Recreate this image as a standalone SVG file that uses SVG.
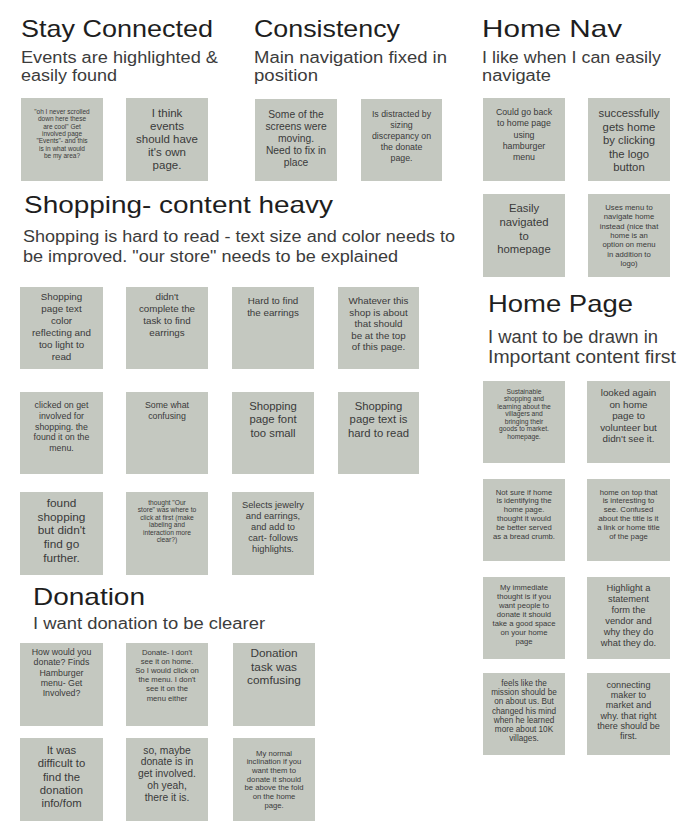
<svg xmlns="http://www.w3.org/2000/svg" width="680" height="840" viewBox="0 0 680 840">
<style>
.bg{fill:#ffffff}
.note{fill:#c4c8c0}
.h{font-family:"Liberation Sans",Arial,sans-serif;font-size:24px;fill:#1e1e1e}
.sub{font-family:"Liberation Sans",Arial,sans-serif;font-size:16px;fill:#3c3c3c}
.sub2{font-family:"Liberation Sans",Arial,sans-serif;font-size:17.5px;fill:#3c3c3c}
.t{font-family:"Liberation Sans",Arial,sans-serif;fill:#3a3a3a;text-anchor:middle}
</style>
<rect class="bg" x="0" y="0" width="680" height="840"/>

<g id="stay-connected-header">
<text class="h" x="21" y="37" textLength="192" lengthAdjust="spacingAndGlyphs">Stay Connected</text>
<text class="sub" x="21" y="63" textLength="197" lengthAdjust="spacingAndGlyphs">Events are highlighted &amp;</text>
<text class="sub" x="21" y="81" textLength="96" lengthAdjust="spacingAndGlyphs">easily found</text>
</g>
<g id="consistency-header">
<text class="h" x="254" y="37" textLength="146" lengthAdjust="spacingAndGlyphs">Consistency</text>
<text class="sub" x="254" y="63" textLength="193" lengthAdjust="spacingAndGlyphs">Main navigation fixed in</text>
<text class="sub" x="254" y="81" textLength="64" lengthAdjust="spacingAndGlyphs">position</text>
</g>
<g id="home-nav-header">
<text class="h" x="482" y="37" textLength="140" lengthAdjust="spacingAndGlyphs">Home Nav</text>
<text class="sub" x="482" y="63" textLength="179" lengthAdjust="spacingAndGlyphs">I like when I can easily</text>
<text class="sub" x="482" y="81" textLength="69" lengthAdjust="spacingAndGlyphs">navigate</text>
</g>
<g id="shopping-header">
<text class="h" x="24" y="213" textLength="309" lengthAdjust="spacingAndGlyphs">Shopping- content heavy</text>
<text class="sub" x="23" y="242" textLength="432" lengthAdjust="spacingAndGlyphs">Shopping is hard to read - text size and color needs to</text>
<text class="sub" x="23" y="262" textLength="375" lengthAdjust="spacingAndGlyphs">be improved. "our store" needs to be explained</text>
</g>
<g id="home-page-header">
<text class="h" x="488" y="312" textLength="145" lengthAdjust="spacingAndGlyphs">Home Page</text>
<text class="sub2" x="488" y="343" textLength="170" lengthAdjust="spacingAndGlyphs">I want to be drawn in</text>
<text class="sub2" x="488" y="363" textLength="188" lengthAdjust="spacingAndGlyphs">Important content first</text>
</g>
<g id="donation-header">
<text class="h" x="33" y="605" textLength="112" lengthAdjust="spacingAndGlyphs">Donation</text>
<text class="sub" x="33" y="629" textLength="232" lengthAdjust="spacingAndGlyphs">I want donation to be clearer</text>
</g>

<!-- Stay Connected notes -->
<g id="stay-1">
<rect class="note" x="21" y="98" width="82" height="83"/>
<text class="t" font-size="6.5" x="62" y="114"><tspan x="62">"oh I never scrolled</tspan><tspan x="62" dy="7.3">down here these</tspan><tspan x="62" dy="7.3">are cool" Get</tspan><tspan x="62" dy="7.3">involved page</tspan><tspan x="62" dy="7.3">"Events"- and this</tspan><tspan x="62" dy="7.3">is in what would</tspan><tspan x="62" dy="7.3">be my area?</tspan></text>
</g>
<g id="stay-2">
<rect class="note" x="126" y="98" width="82" height="83"/>
<text class="t" font-size="11.5" x="167" y="117"><tspan x="167">I think</tspan><tspan x="167" dy="13">events</tspan><tspan x="167" dy="13">should have</tspan><tspan x="167" dy="13">it's own</tspan><tspan x="167" dy="13">page.</tspan></text>
</g>

<!-- Consistency notes -->
<g id="cons-1">
<rect class="note" x="255" y="99" width="82" height="82"/>
<text class="t" font-size="10.3" x="296" y="118"><tspan x="296">Some of the</tspan><tspan x="296" dy="12">screens were</tspan><tspan x="296" dy="12">moving.</tspan><tspan x="296" dy="12">Need to fix in</tspan><tspan x="296" dy="12">place</tspan></text>
</g>
<g id="cons-2">
<rect class="note" x="361" y="99" width="81" height="82"/>
<text class="t" font-size="8.8" x="401.5" y="117"><tspan x="401.5">Is distracted by</tspan><tspan x="401.5" dy="11">sizing</tspan><tspan x="401.5" dy="11">discrepancy on</tspan><tspan x="401.5" dy="11">the donate</tspan><tspan x="401.5" dy="11">page.</tspan></text>
</g>

<!-- Home Nav notes -->
<g id="nav-1">
<rect class="note" x="483" y="98" width="82" height="83"/>
<text class="t" font-size="8.8" x="524" y="115"><tspan x="524">Could go back</tspan><tspan x="524" dy="11.3">to home page</tspan><tspan x="524" dy="11.3">using</tspan><tspan x="524" dy="11.3">hamburger</tspan><tspan x="524" dy="11.3">menu</tspan></text>
</g>
<g id="nav-2">
<rect class="note" x="588" y="98" width="82" height="83"/>
<text class="t" font-size="11.3" x="629" y="117"><tspan x="629">successfully</tspan><tspan x="629" dy="13.5">gets home</tspan><tspan x="629" dy="13.5">by clicking</tspan><tspan x="629" dy="13.5">the logo</tspan><tspan x="629" dy="13.5">button</tspan></text>
</g>
<g id="nav-3">
<rect class="note" x="483" y="194" width="82" height="83"/>
<text class="t" font-size="11.3" x="524" y="212"><tspan x="524">Easily</tspan><tspan x="524" dy="13.8">navigated</tspan><tspan x="524" dy="13.8">to</tspan><tspan x="524" dy="13.8">homepage</tspan></text>
</g>
<g id="nav-4">
<rect class="note" x="588" y="194" width="82" height="83"/>
<text class="t" font-size="7.7" x="629" y="210"><tspan x="629">Uses menu to</tspan><tspan x="629" dy="9.3">navigate home</tspan><tspan x="629" dy="9.3">instead (nice that</tspan><tspan x="629" dy="9.3">home is an</tspan><tspan x="629" dy="9.3">option on menu</tspan><tspan x="629" dy="9.3">in addition to</tspan><tspan x="629" dy="9.3">logo)</tspan></text>
</g>

<!-- Shopping notes -->
<g id="shop-1">
<rect class="note" x="20" y="287" width="83" height="82"/>
<text class="t" font-size="9.8" x="61.5" y="300"><tspan x="61.5">Shopping</tspan><tspan x="61.5" dy="12">page text</tspan><tspan x="61.5" dy="12">color</tspan><tspan x="61.5" dy="12">reflecting and</tspan><tspan x="61.5" dy="12">too light to</tspan><tspan x="61.5" dy="12">read</tspan></text>
</g>
<g id="shop-2">
<rect class="note" x="126" y="287" width="82" height="82"/>
<text class="t" font-size="9.8" x="167" y="300"><tspan x="167">didn't</tspan><tspan x="167" dy="12">complete the</tspan><tspan x="167" dy="12">task to find</tspan><tspan x="167" dy="12">earrings</tspan></text>
</g>
<g id="shop-3">
<rect class="note" x="232" y="287" width="82" height="82"/>
<text class="t" font-size="9.8" x="273" y="304"><tspan x="273">Hard to find</tspan><tspan x="273" dy="12">the earrings</tspan></text>
</g>
<g id="shop-4">
<rect class="note" x="338" y="287" width="81" height="82"/>
<text class="t" font-size="9.8" x="378.5" y="304"><tspan x="378.5">Whatever this</tspan><tspan x="378.5" dy="11.5">shop is about</tspan><tspan x="378.5" dy="11.5">that should</tspan><tspan x="378.5" dy="11.5">be at the top</tspan><tspan x="378.5" dy="11.5">of this page.</tspan></text>
</g>
<g id="shop-5">
<rect class="note" x="20" y="392" width="83" height="82"/>
<text class="t" font-size="8.8" x="61.5" y="408"><tspan x="61.5">clicked on get</tspan><tspan x="61.5" dy="10.8">involved for</tspan><tspan x="61.5" dy="10.8">shopping.  the</tspan><tspan x="61.5" dy="10.8">found it on the</tspan><tspan x="61.5" dy="10.8">menu.</tspan></text>
</g>
<g id="shop-6">
<rect class="note" x="126" y="392" width="82" height="82"/>
<text class="t" font-size="8.8" x="167" y="408"><tspan x="167">Some what</tspan><tspan x="167" dy="11">confusing</tspan></text>
</g>
<g id="shop-7">
<rect class="note" x="232" y="392" width="82" height="82"/>
<text class="t" font-size="11.3" x="273" y="410"><tspan x="273">Shopping</tspan><tspan x="273" dy="13.3">page font</tspan><tspan x="273" dy="13.3">too small</tspan></text>
</g>
<g id="shop-8">
<rect class="note" x="338" y="392" width="81" height="82"/>
<text class="t" font-size="11.3" x="378.5" y="410"><tspan x="378.5">Shopping</tspan><tspan x="378.5" dy="13.3">page text is</tspan><tspan x="378.5" dy="13.3">hard to read</tspan></text>
</g>
<g id="shop-9">
<rect class="note" x="20" y="492" width="83" height="83"/>
<text class="t" font-size="11.8" x="61.5" y="507"><tspan x="61.5">found</tspan><tspan x="61.5" dy="13.7">shopping</tspan><tspan x="61.5" dy="13.7">but didn't</tspan><tspan x="61.5" dy="13.7">find go</tspan><tspan x="61.5" dy="13.7">further.</tspan></text>
</g>
<g id="shop-10">
<rect class="note" x="126" y="492" width="82" height="83"/>
<text class="t" font-size="6.7" x="167" y="504.5"><tspan x="167">thought "Our</tspan><tspan x="167" dy="7.5">store" was where to</tspan><tspan x="167" dy="7.5">click at first (make</tspan><tspan x="167" dy="7.5">labeling and</tspan><tspan x="167" dy="7.5">interaction more</tspan><tspan x="167" dy="7.5">clear?)</tspan></text>
</g>
<g id="shop-11">
<rect class="note" x="232" y="492" width="82" height="83"/>
<text class="t" font-size="9.3" x="273" y="508"><tspan x="273">Selects jewelry</tspan><tspan x="273" dy="11">and earrings,</tspan><tspan x="273" dy="11">and add to</tspan><tspan x="273" dy="11">cart- follows</tspan><tspan x="273" dy="11">highlights.</tspan></text>
</g>

<!-- Home Page notes -->
<g id="home-1">
<rect class="note" x="483" y="381" width="82" height="82"/>
<text class="t" font-size="6.7" x="524" y="393.5"><tspan x="524">Sustainable</tspan><tspan x="524" dy="7.5">shopping and</tspan><tspan x="524" dy="7.5">learning about the</tspan><tspan x="524" dy="7.5">villagers and</tspan><tspan x="524" dy="7.5">bringing their</tspan><tspan x="524" dy="7.5">goods to market.</tspan><tspan x="524" dy="7.5">homepage.</tspan></text>
</g>
<g id="home-2">
<rect class="note" x="587" y="381" width="83" height="82"/>
<text class="t" font-size="9.8" x="628.5" y="396"><tspan x="628.5">looked again</tspan><tspan x="628.5" dy="11.5">on home</tspan><tspan x="628.5" dy="11.5">page to</tspan><tspan x="628.5" dy="11.5">volunteer but</tspan><tspan x="628.5" dy="11.5">didn't see it.</tspan></text>
</g>
<g id="home-3">
<rect class="note" x="483" y="479" width="82" height="82"/>
<text class="t" font-size="7.7" x="524" y="494.5"><tspan x="524">Not sure if home</tspan><tspan x="524" dy="8.9">is identifying the</tspan><tspan x="524" dy="8.9">home page.</tspan><tspan x="524" dy="8.9">thought it would</tspan><tspan x="524" dy="8.9">be better served</tspan><tspan x="524" dy="8.9">as a bread crumb.</tspan></text>
</g>
<g id="home-4">
<rect class="note" x="587" y="479" width="83" height="82"/>
<text class="t" font-size="7.7" x="628.5" y="494.5"><tspan x="628.5">home on top that</tspan><tspan x="628.5" dy="8.9">is interesting to</tspan><tspan x="628.5" dy="8.9">see.  Confused</tspan><tspan x="628.5" dy="8.9">about the title is it</tspan><tspan x="628.5" dy="8.9">a link or home title</tspan><tspan x="628.5" dy="8.9">of the page</tspan></text>
</g>
<g id="home-5">
<rect class="note" x="483" y="577" width="82" height="82"/>
<text class="t" font-size="7.7" x="524" y="590"><tspan x="524">My immediate</tspan><tspan x="524" dy="9">thought is if you</tspan><tspan x="524" dy="9">want people to</tspan><tspan x="524" dy="9">donate it should</tspan><tspan x="524" dy="9">take a good space</tspan><tspan x="524" dy="9">on your home</tspan><tspan x="524" dy="9">page</tspan></text>
</g>
<g id="home-6">
<rect class="note" x="587" y="577" width="83" height="82"/>
<text class="t" font-size="9.3" x="628.5" y="591"><tspan x="628.5">Highlight a</tspan><tspan x="628.5" dy="10.9">statement</tspan><tspan x="628.5" dy="10.9">form the</tspan><tspan x="628.5" dy="10.9">vendor and</tspan><tspan x="628.5" dy="10.9">why they do</tspan><tspan x="628.5" dy="10.9">what they do.</tspan></text>
</g>
<g id="home-7">
<rect class="note" x="483" y="673" width="82" height="82"/>
<text class="t" font-size="8.2" x="524" y="686"><tspan x="524">feels like the</tspan><tspan x="524" dy="9.2">mission should be</tspan><tspan x="524" dy="9.2">on about us.  But</tspan><tspan x="524" dy="9.2">changed his mind</tspan><tspan x="524" dy="9.2">when he learned</tspan><tspan x="524" dy="9.2">more about 10K</tspan><tspan x="524" dy="9.2">villages.</tspan></text>
</g>
<g id="home-8">
<rect class="note" x="587" y="673" width="83" height="82"/>
<text class="t" font-size="9.1" x="628.5" y="688"><tspan x="628.5">connecting</tspan><tspan x="628.5" dy="10.2">maker to</tspan><tspan x="628.5" dy="10.2">market and</tspan><tspan x="628.5" dy="10.2">why. that right</tspan><tspan x="628.5" dy="10.2">there should be</tspan><tspan x="628.5" dy="10.2">first.</tspan></text>
</g>

<!-- Donation notes -->
<g id="don-1">
<rect class="note" x="20" y="643" width="83" height="83"/>
<text class="t" font-size="8.8" x="61.5" y="655"><tspan x="61.5">How would you</tspan><tspan x="61.5" dy="10.3">donate? Finds</tspan><tspan x="61.5" dy="10.3">Hamburger</tspan><tspan x="61.5" dy="10.3">menu- Get</tspan><tspan x="61.5" dy="10.3">Involved?</tspan></text>
</g>
<g id="don-2">
<rect class="note" x="126" y="643" width="82" height="83"/>
<text class="t" font-size="7.7" x="167" y="654.5"><tspan x="167">Donate- I don't</tspan><tspan x="167" dy="9.2">see it on home.</tspan><tspan x="167" dy="9.2">So I would click on</tspan><tspan x="167" dy="9.2">the menu.  I don't</tspan><tspan x="167" dy="9.2">see it on the</tspan><tspan x="167" dy="9.2">menu either</tspan></text>
</g>
<g id="don-3">
<rect class="note" x="233" y="643" width="82" height="83"/>
<text class="t" font-size="11.8" x="274" y="657"><tspan x="274">Donation</tspan><tspan x="274" dy="13.7">task was</tspan><tspan x="274" dy="13.7">comfusing</tspan></text>
</g>
<g id="don-4">
<rect class="note" x="20" y="738" width="83" height="83"/>
<text class="t" font-size="11.3" x="61.5" y="754"><tspan x="61.5">It was</tspan><tspan x="61.5" dy="13.3">difficult to</tspan><tspan x="61.5" dy="13.3">find the</tspan><tspan x="61.5" dy="13.3">donation</tspan><tspan x="61.5" dy="13.3">info/fom</tspan></text>
</g>
<g id="don-5">
<rect class="note" x="126" y="738" width="82" height="83"/>
<text class="t" font-size="10.3" x="167" y="753.5"><tspan x="167">so, maybe</tspan><tspan x="167" dy="11.8">donate is in</tspan><tspan x="167" dy="11.8">get involved.</tspan><tspan x="167" dy="11.8">oh yeah,</tspan><tspan x="167" dy="11.8">there it is.</tspan></text>
</g>
<g id="don-6">
<rect class="note" x="233" y="738" width="82" height="83"/>
<text class="t" font-size="7.7" x="274" y="755.5"><tspan x="274">My normal</tspan><tspan x="274" dy="8.7">inclination if you</tspan><tspan x="274" dy="8.7">want them to</tspan><tspan x="274" dy="8.7">donate it should</tspan><tspan x="274" dy="8.7">be above the fold</tspan><tspan x="274" dy="8.7">on the home</tspan><tspan x="274" dy="8.7">page.</tspan></text>
</g>
</svg>
